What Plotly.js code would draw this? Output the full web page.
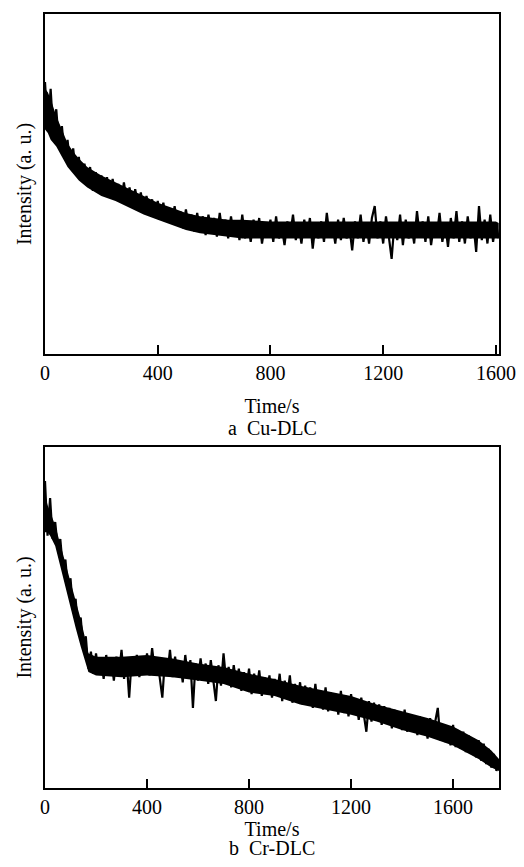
<!DOCTYPE html>
<html>
<head>
<meta charset="utf-8">
<script src="https://cdn.plot.ly/plotly-3.0.1.min.js"></script>
<style>html,body{margin:0;padding:0;background:#fff;}#chart{width:524px;height:867px;}</style>
</head>
<body>
<div id="chart"></div>
<script>
// Time step for both recordings (s)
const timeStep = 10;
const xTickVals = [0, 400, 800, 1200, 1600];
const xTickText = ["0", "400", "800", "1200", "1600"];
const captionA = "a  Cu-DLC";
const captionB = "b  Cr-DLC";
const xTitle = "Time/s";
const yTitle = "Intensity (a. u.)";

// a Cu-DLC intensity (a.u.), t = 0..1610 s every 10 s
const cuIntensity = [
80,66,78,64,72,61,67,58,63,55,
60.5,53,58,51,56,50,55,48,53.5,47.5,
52.5,49,52,46,51.5,46.5,50,44.5,50.5,45,
49,43.5,48.5,44,47.5,42,46.5,43,45.5,40.5,
45,40,44.5,39.5,43,38.5,43.5,38,42,37,
42.5,37.5,41,36,41.5,36.5,40.5,35,41,36,
40,34.5,41.5,35.5,39.5,34,40.5,35,39,33.5,
41,34,38.5,33,39.5,34.5,40,32.5,38,35,
39.5,33,40.5,34,37.5,32,39,35,41,33.5,
38,32.5,39.5,34.5,40,31,38.5,34,39,33,
41.5,34.5,38,32.5,39.5,33.5,40,34,37.5,30.5,
39,34,41,33,38.5,32.5,40,43.5,34,39,
32.5,40.5,34.5,28,38.5,33.5,41,32,39.5,34,
38,32.5,42,34.5,39,33,40.5,32,38,34.5,
41.5,33,38.5,31.5,40,34,42,33,39,32.5,
40.5,34,38.5,30,43.5,33.5,39.5,32.5,41,33,
38.5,34
];
// a Cu-DLC dense core of the noise band (upper / lower edge, a.u.)
const cuBandTime  = [0, 10, 20, 40, 60, 80, 100, 120, 150, 200, 250, 300, 350, 400, 450, 500, 550, 600, 650, 700, 800, 900, 1000, 1100, 1200, 1300, 1400, 1500, 1600, 1610];
const cuBandUpper = [78, 77, 75, 70, 66, 62, 59.5, 57.5, 55, 52.5, 50.5, 48.5, 46.5, 44.5, 43, 41.5, 40.5, 40, 39.5, 39.5, 39, 39, 39, 39, 39, 39, 39, 39, 39, 38.5];
const cuBandLower = [66, 65, 63, 61, 58, 55, 53, 51, 49, 46.5, 45, 43, 41, 39.5, 38, 36.5, 35.5, 35, 34.5, 34, 34, 34, 34, 34, 34, 34, 34, 34, 34, 34];

// b Cr-DLC intensity (a.u.), t = 0..1780 s every 10 s
const crIntensity = [
90,74,85,73,78,70.5,73,64.5,67,58.5,
61.5,52,55.5,46.5,50,41,44.5,35,40,33.5,
39.5,34,37.5,32,39,33,38,31.5,38.5,33.5,
40.5,32,37.5,26.5,38,33,39,32.5,37.5,34,
39.5,33,41,34.5,38,32,26.5,37.5,33.5,40.5,
32.5,38.5,33,37,31,39,32.5,37.5,23.5,36.5,
31.5,38,32,36.5,30.5,37.5,31,25.5,36,30,
39.5,31.5,35.5,29.5,36,30.5,35,28.5,34,29.5,
35,27.5,33.5,29,34.5,27,32.5,28,33,26.5,
32,27.5,33.5,25.5,31.5,27,33,25,30.5,26,
31,24.5,30,25.5,29.5,23.5,30.5,24,28.5,23,
29.5,22.5,28,23.5,27.5,21.5,28.5,22,27,21,
27.5,21.5,26,20,26.5,21,16.5,25.5,19.5,25,
20,24.5,18.5,24,19,23.5,17.5,23,18,22.5,
17,23,16.5,21.5,17,21,15.5,21,16,20,
14.5,20.5,15,19.5,23.5,14,18.5,13.5,18,12.5,
18.5,12,17,11.5,16.5,10.5,15.5,10,14.5,9,
14,8,13,7,11.5,6,10,5,8
];
// b Cr-DLC dense core of the noise band (upper / lower edge, a.u.)
const crBandTime  = [0, 10, 20, 40, 60, 80, 100, 120, 140, 160, 170, 200, 300, 400, 500, 600, 700, 800, 900, 1000, 1100, 1200, 1300, 1400, 1500, 1600, 1700, 1750, 1780];
const crBandUpper = [86, 83, 81, 77, 71.5, 66, 60.5, 55, 49.5, 43, 39.5, 38.5, 38.5, 39, 38, 36.5, 35.5, 33.5, 32, 30, 28.5, 27, 24.5, 22.5, 20.5, 18, 14, 11, 8.5];
const crBandLower = [75, 75, 74, 71, 65, 59, 52.5, 47, 41.5, 36, 34, 33, 32.5, 33, 32.5, 31.5, 30.5, 28, 27, 24.5, 23, 21.5, 19.5, 17, 15, 12.5, 8.5, 6, 5];

const cuTime = cuIntensity.map((_, i) => i * timeStep);
const crTime = crIntensity.map((_, i) => i * timeStep);

const fontFam = '"Liberation Serif", "Times New Roman", serif';

function bandTraces(t, lo, hi, xa, ya) {
  return [
    {x: t, y: lo, type: 'scatter', mode: 'lines', line: {width: 0, color: '#000'},
     xaxis: xa, yaxis: ya, hoverinfo: 'skip'},
    {x: t, y: hi, type: 'scatter', mode: 'lines', line: {width: 0, color: '#000'},
     fill: 'tonexty', fillcolor: '#000', xaxis: xa, yaxis: ya, hoverinfo: 'skip'}
  ];
}

const traceA = {x: cuTime, y: cuIntensity, type: 'scatter', mode: 'lines',
  line: {color: '#000', width: 2.2}, xaxis: 'x', yaxis: 'y', hoverinfo: 'skip'};
const traceB = {x: crTime, y: crIntensity, type: 'scatter', mode: 'lines',
  line: {color: '#000', width: 2.2}, xaxis: 'x2', yaxis: 'y2', hoverinfo: 'skip'};

function xAxis(range, anchor, standoff) {
  return {
    range: range, anchor: anchor, automargin: false,
    showline: true, mirror: true, linecolor: '#000', linewidth: 2,
    ticks: 'inside', ticklen: 9, tickwidth: 2, tickcolor: '#000',
    tickmode: 'array', tickvals: xTickVals, ticktext: xTickText,
    showgrid: false, zeroline: false,
    tickfont: {family: fontFam, size: 20, color: '#000'},
    title: {text: xTitle, font: {family: fontFam, size: 20, color: '#000'}, standoff: standoff}
  };
}
function yAxis(domain, anchor) {
  return {
    domain: domain, anchor: anchor, automargin: false,
    showline: true, mirror: true, linecolor: '#000', linewidth: 2,
    ticks: '', showticklabels: false, showgrid: false, zeroline: false,
    range: [0, 100],
    title: {text: yTitle, font: {family: fontFam, size: 20, color: '#000'}, standoff: 6}
  };
}

const layout = {
  width: 524, height: 867,
  margin: {l: 45, r: 25, t: 14, b: 79},
  paper_bgcolor: '#fff', plot_bgcolor: '#fff',
  showlegend: false,
  xaxis: xAxis([0, 1611], 'y', 16),
  yaxis: yAxis([0.5607, 1], 'x'),
  xaxis2: xAxis([0, 1780], 'y2', 3),
  yaxis2: yAxis([0, 0.4406], 'x2'),
  annotations: [
    {text: captionA, xref: 'paper', yref: 'paper', x: 0.5, y: 0.4651, xanchor: 'center', yanchor: 'middle',
     showarrow: false, font: {family: fontFam, size: 20, color: '#000'}},
    {text: captionB, xref: 'paper', yref: 'paper', x: 0.5, y: -0.0775, xanchor: 'center', yanchor: 'middle',
     showarrow: false, font: {family: fontFam, size: 20, color: '#000'}}
  ]
};

const data = []
  .concat(bandTraces(cuBandTime, cuBandLower, cuBandUpper, 'x', 'y'))
  .concat([traceA])
  .concat(bandTraces(crBandTime, crBandLower, crBandUpper, 'x2', 'y2'))
  .concat([traceB]);

Plotly.newPlot('chart', data, layout, {staticPlot: true, displayModeBar: false});
</script>
</body>
</html>
